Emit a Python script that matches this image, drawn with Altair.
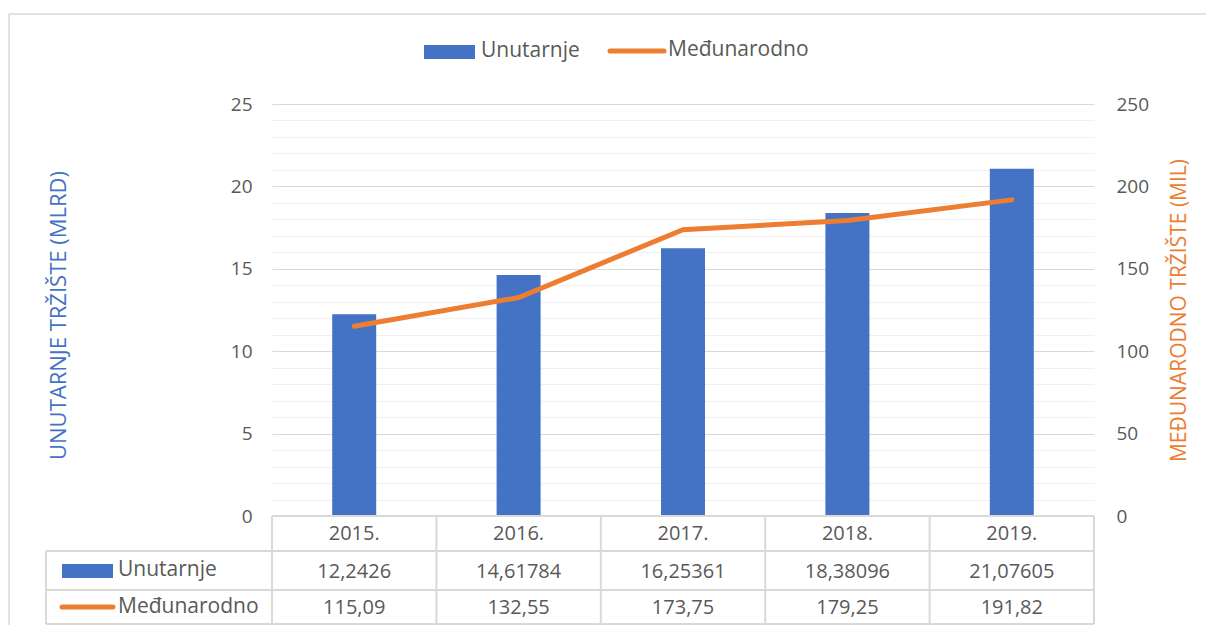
import altair as alt
import pandas as pd

years = ["2015.", "2016.", "2017.", "2018.", "2019."]
unutarnje = [12.2426, 14.61784, 16.25361, 18.38096, 21.07605]
medunarodno = [115.09, 132.55, 173.75, 179.25, 191.82]
series = ["Unutarnje", "Međunarodno"]
left_ticks = list(range(0, 26))
right_ticks = [0, 50, 100, 150, 200, 250]

BLUE = "#4472C4"
ORANGE = "#ED7D31"
TXT = "#595959"
GRID = "#D9D9D9"
FONT = "Open Sans"

df = pd.DataFrame({"year": years, "u": unutarnje, "m": medunarodno})
one = alt.Data(values=[{"a": 1}])

xscale = alt.Scale(paddingInner=0, paddingOuter=0)
xs = alt.X("year:N", sort=years, axis=None, scale=xscale)

bars = alt.Chart(df).mark_bar(color=BLUE, size=44).encode(
    x=xs,
    y=alt.Y("u:Q", scale=alt.Scale(domain=[0, 25], nice=False),
            axis=alt.Axis(values=left_ticks, title="UNUTARNJE TRŽIŠTE (MLRD)",
                          labelExpr="datum.value % 5 === 0 ? datum.label : ''",
                          gridColor={"condition": {"test": "datum.value % 5 === 0", "value": GRID},
                                     "value": "#F0F0F0"},
                          domain=False, ticks=False, labelPadding=20,
                          labelFontSize=19, labelColor=TXT, labelFont=FONT,
                          titleColor=BLUE, titleFont=FONT, titleFontSize=22,
                          titleFontWeight="normal", titleAngle=-90,
                          titleX=-214, titleY=211, titleAlign="center",
                          titleBaseline="middle")),
)

line = alt.Chart(df).mark_line(color=ORANGE, strokeWidth=5, strokeCap="round").encode(
    x=xs,
    y=alt.Y("m:Q", scale=alt.Scale(domain=[0, 250], nice=False),
            axis=alt.Axis(orient="right", values=right_ticks, grid=False,
                          title="MEĐUNARODNO TRŽIŠTE (MIL)",
                          domain=False, ticks=False, labelPadding=22,
                          labelFontSize=19, labelColor=TXT, labelFont=FONT,
                          titleColor=ORANGE, titleFont=FONT, titleFontSize=21,
                          titleFontWeight="normal", titleAngle=-90,
                          titleX=85, titleY=206, titleAlign="center",
                          titleBaseline="middle")),
)

# data table
year_text = alt.Chart(df).mark_text(font=FONT, fontSize=20, color=TXT).encode(
    x=xs, y=alt.value(430), text="year:N")
u_text = alt.Chart(df).transform_calculate(
    lab="replace(toString(datum.u), '.', ',')").mark_text(
    font=FONT, fontSize=20, color=TXT).encode(x=xs, y=alt.value(468), text="lab:N")
m_text = alt.Chart(df).transform_calculate(
    lab="replace(toString(datum.m), '.', ',')").mark_text(
    font=FONT, fontSize=20, color=TXT).encode(x=xs, y=alt.value(504), text="lab:N")

vlines = alt.Chart(df).mark_rule(color=GRID, strokeWidth=2).encode(
    x=alt.X("year:N", sort=years, bandPosition=0, axis=None, scale=xscale),
    y=alt.value(412), y2=alt.value(520))
rules = []
for (x1, x2, y1, y2) in [(822, 822, 412, 520), (-226, -226, 447, 520),
                         (0, 822, 412, 412), (-226, 822, 447, 447),
                         (-226, 822, 486, 486), (-226, 822, 520, 520)]:
    rules.append(alt.Chart(one).mark_rule(color=GRID, strokeWidth=2).encode(
        x=alt.value(x1), x2=alt.value(x2), y=alt.value(y1), y2=alt.value(y2)))

# outer chart border
border = [
    alt.Chart(one).mark_rule(color=GRID, strokeWidth=1.5).encode(
        x=alt.value(-263), x2=alt.value(-263), y=alt.value(-90), y2=alt.value(540)),
    alt.Chart(one).mark_rule(color=GRID, strokeWidth=1.5).encode(
        x=alt.value(-263), x2=alt.value(960), y=alt.value(-90), y2=alt.value(-90)),
]

# table row keys
key_u = alt.Chart(one).mark_rect(color=BLUE).encode(
    x=alt.value(-210), x2=alt.value(-159), y=alt.value(460), y2=alt.value(474))
key_m = alt.Chart(one).mark_rule(color=ORANGE, strokeWidth=5, strokeCap="round").encode(
    x=alt.value(-210), x2=alt.value(-159), y=alt.value(503), y2=alt.value(503))
key_t1 = alt.Chart(one).mark_text(text=series[0], font=FONT, fontSize=21, color=TXT,
                                  align="left").encode(x=alt.value(-154), y=alt.value(466))
key_t2 = alt.Chart(one).mark_text(text=series[1], font=FONT, fontSize=21, color=TXT,
                                  align="left").encode(x=alt.value(-154), y=alt.value(503))

# top legend
leg_u = alt.Chart(one).mark_rect(color=BLUE).encode(
    x=alt.value(152), x2=alt.value(203), y=alt.value(-59), y2=alt.value(-45))
leg_m = alt.Chart(one).mark_rule(color=ORANGE, strokeWidth=5, strokeCap="round").encode(
    x=alt.value(338), x2=alt.value(392), y=alt.value(-53), y2=alt.value(-53))
leg_t1 = alt.Chart(one).mark_text(text=series[0], font=FONT, fontSize=21, color=TXT,
                                  align="left").encode(x=alt.value(209), y=alt.value(-53))
leg_t2 = alt.Chart(one).mark_text(text=series[1], font=FONT, fontSize=21, color=TXT,
                                  align="left").encode(x=alt.value(396), y=alt.value(-54))

chart = alt.layer(
    bars, line, *border, vlines, *rules, year_text, u_text, m_text,
    key_u, key_m, key_t1, key_t2, leg_u, leg_m, leg_t1, leg_t2
).resolve_scale(y="independent").properties(
    width=822, height=412,
    autosize=alt.AutoSizeParams(type="none"),
    padding={"left": 264, "top": 96, "right": 112, "bottom": 109},
    background="white",
).configure_view(stroke=None)

chart.save("out.html", embed_options={"renderer": "svg", "actions": False})
